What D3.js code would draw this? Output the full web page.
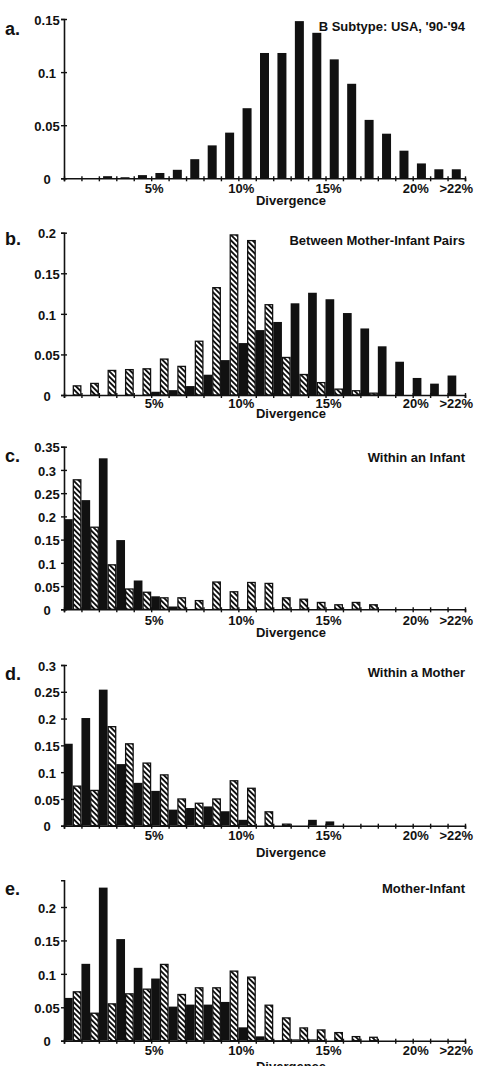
<!DOCTYPE html>
<html>
<head>
<meta charset="utf-8">
<script src="https://cdn.jsdelivr.net/npm/d3@7"></script>
<style>
    body { margin: 0; background: #fff; }
    text { font-family: "Liberation Sans", Arial, Helvetica, sans-serif; font-weight: bold; fill: #111; }
</style>
</head>
<body>
<div id="viz"></div>
<script>
// 23 bins of 1% divergence, last one is ">22%"
const nbrBins = 23;
const tickLabels = ["5%", "10%", "15%", "20%", ">22%"];
const tickLabelBins = [5, 10, 15, 20, 22.5];

// a. B subtype, USA '90-'94 (single series)
const subtypeUSA = [0, 0, 0.002, 0.001, 0.003, 0.005, 0.008, 0.018, 0.031, 0.043, 0.066, 0.118,
    0.118, 0.148, 0.137, 0.112, 0.089, 0.055, 0.042, 0.026, 0.014, 0.0085, 0.0085];

// b. between mother-infant pairs
const pairsSolid = [0, 0, 0, 0, 0, 0.004, 0.006, 0.011, 0.025, 0.043, 0.064, 0.080,
    0.090, 0.113, 0.126, 0.118, 0.101, 0.082, 0.060, 0.041, 0.021, 0.014, 0.024];
const pairsHatched = [0.012, 0.015, 0.031, 0.032, 0.033, 0.045, 0.036, 0.067, 0.133, 0.198, 0.191, 0.112,
    0.047, 0.026, 0.016, 0.008, 0.006, 0.003, 0, 0, 0, 0, 0];

// c. within an infant
const infantSolid = [0.194, 0.235, 0.325, 0.149, 0.062, 0.028, 0.006, 0, 0, 0, 0, 0,
    0, 0, 0, 0, 0, 0, 0, 0, 0, 0, 0];
const infantHatched = [0.280, 0.178, 0.097, 0.045, 0.038, 0.026, 0.026, 0.020, 0.060, 0.039, 0.059, 0.057,
    0.026, 0.023, 0.016, 0.011, 0.016, 0.011, 0, 0, 0, 0, 0];

// d. within a mother
const motherSolid = [0.153, 0.201, 0.254, 0.115, 0.080, 0.065, 0.030, 0.033, 0.036, 0.027, 0.011, 0,
    0, 0, 0.011, 0.008, 0, 0, 0, 0, 0, 0, 0];
const motherHatched = [0.075, 0.067, 0.186, 0.154, 0.118, 0.096, 0.051, 0.043, 0.051, 0.085, 0.071, 0.027,
    0.004, 0, 0, 0, 0, 0, 0, 0, 0, 0, 0];

// e. mother-infant
const motherInfantSolid = [0.064, 0.115, 0.229, 0.152, 0.109, 0.093, 0.051, 0.054, 0.054, 0.058, 0.020, 0.0065,
    0.001, 0.002, 0.002, 0, 0, 0, 0, 0, 0, 0, 0];
const motherInfantHatched = [0.074, 0.042, 0.056, 0.071, 0.078, 0.115, 0.070, 0.080, 0.080, 0.105, 0.096, 0.054,
    0.035, 0.020, 0.017, 0.013, 0.007, 0.006, 0, 0, 0, 0, 0];

const panels = [
    {letter: "a.", title: "B Subtype: USA, '90-'94", solid: subtypeUSA, hatched: null,
        yTop: 0.15, yMax: 0.15, zero: 178.3, top: 19, letterY: 35, titleY: 31, tickDy: 15, divDy: 27},
    {letter: "b.", title: "Between Mother-Infant Pairs", solid: pairsSolid, hatched: pairsHatched,
        yTop: 0.2, yMax: 0.2, zero: 395, top: 232.7, letterY: 245, titleY: 245, tickDy: 13, divDy: 23},
    {letter: "c.", title: "Within an Infant", solid: infantSolid, hatched: infantHatched,
        yTop: 0.35, yMax: 0.35, zero: 609.3, top: 446.7, letterY: 462, titleY: 462, tickDy: 16, divDy: 28},
    {letter: "d.", title: "Within a Mother", solid: motherSolid, hatched: motherHatched,
        yTop: 0.3, yMax: 0.3, zero: 825.7, top: 665, letterY: 680, titleY: 677, tickDy: 14.5, divDy: 31},
    {letter: "e.", title: "Mother-Infant", solid: motherInfantSolid, hatched: motherInfantHatched,
        yTop: 0.2, yMax: 0.24, zero: 1040.7, top: 907, letterY: 895, titleY: 893, tickDy: 14.5, divDy: 30}
];

const width = 482,
    height = 1066;

const svg = d3.select("#viz").append("svg")
    .attr("width", width)
    .attr("height", height);

// diagonal hatch
svg.append("defs").append("pattern")
    .attr("id", "hatch")
    .attr("patternUnits", "userSpaceOnUse")
    .attr("width", 3.8)
    .attr("height", 3.8)
    .attr("patternTransform", "rotate(-45)")
    .call(p => {
        p.append("rect").attr("width", 3.8).attr("height", 3.8).attr("fill", "#fff");
        p.append("rect").attr("width", 1.9).attr("height", 3.8).attr("fill", "#111");
    });

const x = d3.scaleLinear()
    .domain([0, nbrBins])
    .range([64, 465]);

const binW = x(1) - x(0);

panels.forEach(drawPanel);

// keep the bin index with the value, drop empty bins
function toBins(values) {
    return values.map((v, i) => ({bin: i, value: v})).filter(d => d.value > 0);
}

function drawPanel(p) {
    const g = svg.append("g");

    const y = d3.scaleLinear()
        .domain([0, p.yTop])
        .range([p.zero, p.top]);

    const yTicks = d3.range(0, p.yTop + 1e-9, 0.05);

    // bars
    if (p.hatched === null) {
        g.selectAll(".bar")
            .data(toBins(p.solid))
            .enter().append("rect")
            .attr("x", d => x(d.bin + 0.5) - 4.5)
            .attr("width", 9)
            .attr("y", d => y(d.value))
            .attr("height", d => y(0) - y(d.value))
            .attr("fill", "#111");
    } else {
        g.selectAll(".solid")
            .data(toBins(p.solid))
            .enter().append("rect")
            .attr("x", d => x(d.bin))
            .attr("width", binW / 2)
            .attr("y", d => y(d.value))
            .attr("height", d => y(0) - y(d.value))
            .attr("fill", "#111");

        g.selectAll(".hatched")
            .data(toBins(p.hatched))
            .enter().append("rect")
            .attr("x", d => x(d.bin + 0.5) + 0.6)
            .attr("width", binW / 2 - 1.2)
            .attr("y", d => y(d.value) + 0.6)
            .attr("height", d => Math.max(0, y(0) - y(d.value) - 0.6))
            .attr("fill", "url(#hatch)")
            .attr("stroke", "#111")
            .attr("stroke-width", 1.3);
    }

    // y axis, ticks cross the line
    const yAxis = g.append("g")
        .attr("transform", "translate(" + x(0) + ",0)")
        .call(d3.axisLeft(y.copy().domain([0, p.yMax]).range([p.zero, y(p.yMax)]))
            .tickValues(yTicks)
            .tickSizeOuter(0)
            .tickSize(3)
            .tickFormat(d3.format("~g")));

    yAxis.select(".domain").attr("stroke", "#111").attr("stroke-width", 1.6);
    yAxis.selectAll(".tick line").attr("x1", 3).attr("stroke", "#111").attr("stroke-width", 1.4);
    yAxis.selectAll(".tick text")
        .attr("x", 47 - x(0))
        .attr("dy", "0.4em")
        .style("text-anchor", "middle")
        .style("font-size", "13px")
        .style("font-family", null);

    // x axis, one tick per bin edge
    const xAxis = g.append("g")
        .attr("transform", "translate(0," + p.zero + ")")
        .call(d3.axisBottom(x)
            .tickValues(d3.range(0, nbrBins + 1))
            .tickSizeOuter(0)
            .tickSize(3)
            .tickFormat(""));

    xAxis.select(".domain").attr("stroke", "#111").attr("stroke-width", 1.6);
    xAxis.selectAll(".tick line").attr("y1", -2).attr("stroke", "#111").attr("stroke-width", 1.4);

    g.selectAll(".xlab")
        .data(tickLabels)
        .enter().append("text")
        .attr("x", (d, i) => x(tickLabelBins[i]) + (i < 4 ? 3 : 0))
        .attr("y", p.zero + p.tickDy)
        .attr("text-anchor", "middle")
        .style("font-size", "13px")
        .text(d => d);

    // text label for the x axis
    g.append("text")
        .attr("x", 291)
        .attr("y", p.zero + p.divDy)
        .attr("text-anchor", "middle")
        .style("font-size", "13px")
        .text("Divergence");

    g.append("text")
        .attr("x", 5)
        .attr("y", p.letterY)
        .style("font-size", "18px")
        .text(p.letter);

    g.append("text")
        .attr("x", 465)
        .attr("y", p.titleY)
        .attr("text-anchor", "end")
        .style("font-size", "13px")
        .text(p.title);
}
</script>
</body>
</html>
